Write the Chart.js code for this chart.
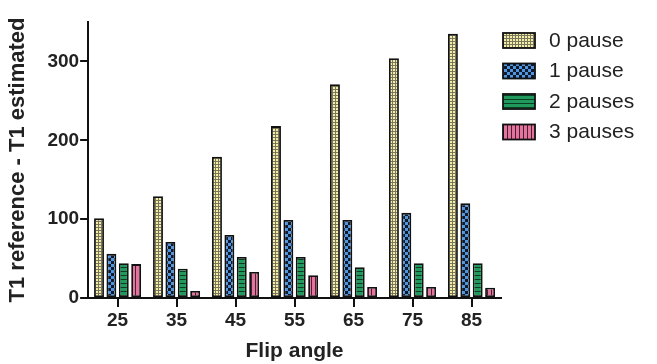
<!DOCTYPE html>
<html>
<head>
<meta charset="utf-8">
<script src="https://cdn.jsdelivr.net/npm/chart.js@4"></script>
<style>
  html, body { margin: 0; padding: 0; background: #fff; }
  #wrap { width: 657px; height: 364px; }
</style>
</head>
<body>
<div id="wrap"><canvas id="chart" width="657" height="364"></canvas></div>
<script>
// data
const flipAngles = ['25', '35', '45', '55', '65', '75', '85'];
const pause0 = [101, 129, 179, 218, 271, 304, 335];
const pause1 = [56, 71, 80, 99, 99, 108, 120];
const pause2 = [44, 37, 52, 52, 39, 44, 44];
const pause3 = [43, 9, 33, 29, 14, 14, 13];
const seriesNames = ['0 pause', '1 pause', '2 pauses', '3 pauses'];
const yTicks = [0, 100, 200, 300];

const FONT = 'Liberation Sans, Arial, sans-serif';

// patterns for the bar fills
function makePattern(kind) {
    const c = document.createElement('canvas');
    const ctx = c.getContext('2d');
    if (kind === 'dots') {
        c.width = 3; c.height = 3;
        ctx.fillStyle = '#7a765c';
        ctx.fillRect(0, 0, 3, 3);
        ctx.fillStyle = '#f4efa8';
        ctx.fillRect(0, 0, 2, 2);
    } else if (kind === 'checker') {
        c.width = 6; c.height = 6;
        ctx.fillStyle = '#4f95e0';
        ctx.fillRect(0, 0, 6, 6);
        ctx.fillStyle = '#101a2a';
        ctx.fillRect(0, 0, 3, 3);
        ctx.fillRect(3, 3, 3, 3);
    } else if (kind === 'hlines') {
        c.width = 4; c.height = 4;
        ctx.fillStyle = '#1f9a5c';
        ctx.fillRect(0, 0, 4, 4);
        ctx.fillStyle = '#0d3a22';
        ctx.fillRect(0, 3, 4, 1);
    } else {
        c.width = 4; c.height = 4;
        ctx.fillStyle = '#e3749d';
        ctx.fillRect(0, 0, 4, 4);
        ctx.fillStyle = '#4a2030';
        ctx.fillRect(3, 0, 1, 4);
    }
    return ctx.createPattern(c, 'repeat');
}

const fills = [makePattern('dots'), makePattern('checker'), makePattern('hlines'), makePattern('vlines')];
const values = [pause0, pause1, pause2, pause3];

const datasets = [];
for (var i = 0; i < 4; i++) {
    datasets.push({
        label: seriesNames[i],
        data: values[i],
        backgroundColor: fills[i],
        borderColor: '#111',
        borderWidth: 1.8,
        borderSkipped: false,
        categoryPercentage: 0.84,
        barPercentage: 0.8
    });
}

// legend drawn beside the plot, like the original figure
const sideLegend = {
    id: 'sideLegend',
    afterDraw(chart) {
        const ctx = chart.ctx;
        const x0 = chart.chartArea.right + 2;
        ctx.save();
        ctx.font = '21px ' + FONT;
        ctx.textBaseline = 'middle';
        chart.data.datasets.forEach((ds, i) => {
            const y = 33 + i * 30.5;
            ctx.fillStyle = ds.backgroundColor;
            ctx.fillRect(x0, y, 32, 15);
            ctx.strokeStyle = '#111';
            ctx.lineWidth = 1.8;
            ctx.strokeRect(x0, y, 32, 15);
            ctx.fillStyle = '#222';
            ctx.fillText(ds.label, x0 + 46, y + 8);
        });
        ctx.restore();
    }
};

const config = {
    type: 'bar',
    data: { labels: flipAngles, datasets: datasets },
    options: {
        responsive: false,
        animation: false,
        layout: { padding: { left: 5, top: 22, right: 156, bottom: 0 } },
        plugins: {
            tooltip: { enabled: false },
            legend: { display: false }
        },
        scales: {
            x: {
                grid: { display: true, drawOnChartArea: false, tickLength: 9, color: '#111', lineWidth: 2, offset: false },
                border: { color: '#111', width: 2 },
                ticks: { color: '#222', padding: 2, font: { family: FONT, size: 19, weight: 'bold' } },
                title: {
                    display: true, text: 'Flip angle', color: '#222',
                    font: { family: FONT, size: 21, weight: 'bold' },
                    padding: { top: 5, bottom: 0 }
                }
            },
            y: {
                min: 0, max: 350,
                afterBuildTicks: function(axis) {
                    axis.ticks = yTicks.map(v => ({ value: v }));
                },
                grid: { display: true, drawOnChartArea: false, tickLength: 8, color: '#111', lineWidth: 2 },
                border: { color: '#111', width: 2 },
                ticks: { color: '#222', padding: 1, font: { family: FONT, size: 19, weight: 'bold' } },
                title: {
                    display: true, text: 'T1 reference - T1 estimated', color: '#222',
                    font: { family: FONT, size: 22, weight: 'bold' },
                    padding: { top: 0, bottom: 15 }
                }
            }
        }
    },
    plugins: [sideLegend]
};

const myChart = new Chart(document.getElementById('chart'), config);
</script>
</body>
</html>
